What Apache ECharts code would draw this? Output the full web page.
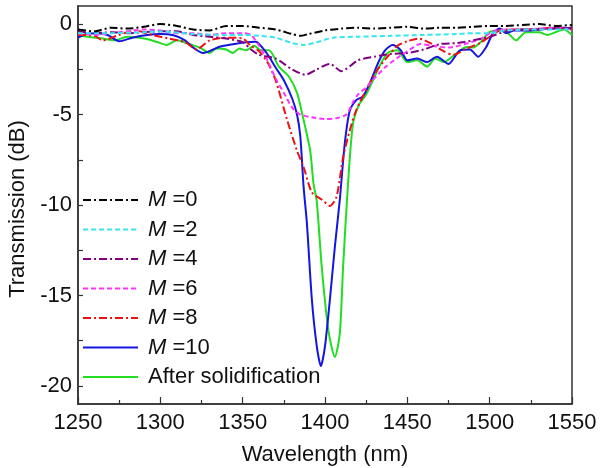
<!DOCTYPE html>
<html>
<head>
<meta charset="utf-8">
<script src="https://cdn.jsdelivr.net/npm/echarts@6/dist/echarts.min.js"></script>
<style>html,body{margin:0;padding:0;background:#fff}#c{width:600px;height:468px}</style>
</head>
<body>
<div id="c"></div>
<script>
// Series names
const seriesNames = ['M=0', 'M=2', 'M=4', 'M=6', 'M=8', 'M=10', 'After solidification'];

// M = 0
const wlM0 = [1250,1260,1270,1280,1290,1300,1310,1320,1330,1340,1350,1360,1370,1380,1385,1390,1400,1410,1420,1430,1440,1450,1460,1470,1480,1490,1500,1510,1520,1530,1540,1550];
const trM0 = [-0.3,-0.4,-0.2,-0.25,-0.15,0.0,-0.1,-0.3,-0.35,-0.1,-0.1,-0.2,-0.3,-0.55,-0.65,-0.55,-0.35,-0.25,-0.2,-0.25,-0.2,-0.15,-0.25,-0.2,-0.2,-0.15,-0.1,-0.1,-0.05,0.0,-0.1,-0.05];

// M = 2
const wlM2 = [1250,1270,1290,1300,1320,1340,1350,1360,1370,1380,1387,1395,1405,1420,1440,1460,1480,1490,1500,1510,1530,1550];
const trM2 = [-0.5,-0.5,-0.45,-0.4,-0.55,-0.6,-0.6,-0.65,-0.75,-1.05,-1.15,-1.0,-0.75,-0.7,-0.65,-0.6,-0.55,-0.5,-0.5,-0.35,-0.3,-0.3];

// M = 4
const wlM4 = [1250,1260,1270,1280,1290,1300,1310,1320,1330,1340,1350,1355,1360,1370,1380,1388,1395,1403,1410,1420,1430,1440,1450,1460,1470,1480,1490,1500,1510,1520,1530,1540,1550];
const trM4 = [-0.4,-0.5,-0.45,-0.5,-0.45,-0.4,-0.4,-0.6,-0.7,-0.8,-1.0,-1.4,-1.7,-1.9,-2.5,-2.8,-2.5,-2.2,-2.6,-2.0,-1.8,-1.65,-1.6,-1.4,-1.1,-1.05,-0.9,-0.7,-0.4,-0.3,-0.3,-0.25,-0.2];

// M = 6
const wlM6 = [1250,1260,1270,1280,1290,1300,1310,1320,1330,1340,1350,1355,1360,1365,1370,1375,1380,1385,1392,1400,1407,1413,1417,1420,1425,1430,1437,1445,1450,1458,1465,1475,1485,1495,1502,1510,1520,1530,1540,1550];
const trM6 = [-0.5,-0.6,-0.5,-0.4,-0.3,-0.35,-0.5,-0.5,-0.6,-0.5,-0.5,-0.6,-1.2,-2.0,-3.0,-3.8,-4.6,-5.0,-5.15,-5.25,-5.2,-5.0,-4.3,-3.9,-3.5,-3.0,-2.35,-1.8,-1.5,-1.1,-1.2,-1.3,-1.1,-0.8,-0.4,-0.3,-0.3,-0.25,-0.2,-0.3];

// M = 8
const wlM8 = [1250,1260,1265,1275,1285,1295,1305,1315,1322,1330,1340,1350,1355,1360,1365,1370,1377,1383,1387,1392,1398,1403,1407,1411,1415,1419,1427,1432,1438,1444,1450,1457,1465,1472,1478,1485,1494,1500,1508,1520,1530,1540,1550];
const trM8 = [-0.6,-0.65,-0.9,-0.6,-0.35,-0.6,-0.8,-1.0,-1.4,-0.9,-0.75,-0.8,-1.2,-1.5,-2.1,-3.1,-5.3,-7.0,-7.9,-9.3,-9.7,-10.05,-9.55,-7.35,-5.9,-4.75,-3.3,-2.5,-1.8,-1.2,-0.95,-0.8,-1.1,-1.5,-1.7,-1.4,-1.05,-0.7,-0.3,-0.3,-0.25,-0.2,-0.3];

// M = 10
const wlM10 = [1250,1255,1262,1268,1275,1283,1292,1300,1308,1315,1320,1326,1336,1345,1352,1358,1362,1366,1370,1375,1380,1383,1385,1387,1389,1392,1395,1397.5,1400,1403,1406,1409,1412,1415,1419,1423,1427,1433,1437,1441,1446,1450,1456,1462,1468,1475,1482,1488,1493,1498,1502,1506,1510,1515,1525,1535,1545,1550];
const trM10 = [-0.75,-0.55,-0.5,-0.6,-0.95,-0.75,-0.6,-0.55,-0.62,-0.9,-1.3,-1.6,-1.25,-1.1,-1.0,-0.97,-1.3,-1.8,-2.4,-3.1,-4.1,-5.0,-6.2,-9.0,-11.0,-15.2,-17.8,-18.9,-17.8,-15.2,-12.3,-9.7,-6.6,-4.8,-4.2,-4.0,-3.3,-2.0,-1.4,-1.16,-1.45,-2.0,-1.9,-2.1,-1.8,-2.2,-1.45,-1.4,-1.8,-1.25,-0.5,-0.25,-0.5,-0.35,-0.35,-0.25,-0.2,-0.25];

// After solidification
const wlAS = [1250,1256,1265,1272,1280,1287,1293,1300,1304,1310,1316,1324,1330,1334,1340,1344,1348,1352,1357,1361,1366,1372,1378,1383,1386.5,1391,1393,1395,1398,1402,1406,1409,1411,1414,1417,1421,1425,1433,1438,1444,1450,1456,1462,1467,1472,1480,1486,1490,1494,1500,1506,1511,1516,1522,1530,1535,1540,1545,1550];
const trAS = [-0.6,-0.7,-0.8,-0.9,-0.7,-0.75,-0.85,-1.05,-1.15,-0.9,-1.05,-1.3,-1.6,-1.35,-1.4,-1.6,-1.35,-1.45,-1.2,-1.45,-1.45,-2.35,-2.9,-3.8,-5.1,-7.0,-8.8,-9.8,-13.4,-16.9,-18.4,-17.1,-13.4,-8.8,-5.5,-4.4,-3.9,-2.35,-1.6,-1.45,-2.1,-2.0,-2.35,-1.9,-2.1,-1.6,-1.27,-1.3,-1.05,-0.43,-0.35,-0.5,-0.9,-0.45,-0.45,-0.6,-0.45,-0.3,-0.6];

// Axis ticks
const xTicks = [1250,1300,1350,1400,1450,1500,1550];
const yLabels = [0,-5,-10,-15,-20];
const yTicks = [0,-2.5,-5,-7.5,-10,-12.5,-15,-17.5,-20];

const wls = [wlM0, wlM2, wlM4, wlM6, wlM8, wlM10, wlAS];
const trs = [trM0, trM2, trM4, trM6, trM8, trM10, trAS];
const colors = ['#000000', '#33e6f0', '#800080', '#ff33ff', '#ee1111', '#1515e0', '#22dd22'];
const dashes = [[8,3,2,3], [5,3], [8,3,2,3], [5,3], [8,3,2,3], 'solid', 'solid'];

const FONT = 'Liberation Sans, Arial, sans-serif';
const FS = 22;

const series = seriesNames.map((n, i) => ({
  name: n,
  type: 'line',
  data: wls[i].map((w, j) => [w, trs[i][j]]),
  showSymbol: false,
  symbol: 'circle',
  smooth: 0.25,
  lineStyle: { color: colors[i], width: 2, type: dashes[i] },
  itemStyle: { color: colors[i] },
  z: 10 - i
}));

const chart = echarts.init(document.getElementById('c'), null, { renderer: 'canvas' });
chart.setOption({
  backgroundColor: '#fff',
  animation: false,
  grid: { left: 78, right: 28, top: 6, bottom: 64, containLabel: false, outerBoundsMode: 'none', show: true, borderColor: '#333', borderWidth: 1.5, backgroundColor: 'transparent' },
  legend: {
    orient: 'vertical',
    left: 77,
    top: 184,
    itemWidth: 55,
    itemHeight: 14,
    itemGap: 7.5,
    data: seriesNames,
    itemStyle: { opacity: 0 },
    formatter: function (name) {
      if (name.indexOf('M=') === 0) return '{i|M}{n| =' + name.slice(2) + '}';
      return '{n|' + name + '}';
    },
    textStyle: {
      fontFamily: FONT, fontSize: FS, color: '#111', lineHeight: 22, padding: [0, 0, 0, 5],
      rich: {
        i: { fontFamily: FONT, fontSize: FS, fontStyle: 'italic', color: '#111', lineHeight: 22 },
        n: { fontFamily: FONT, fontSize: FS, color: '#111', lineHeight: 22 }
      }
    }
  },
  xAxis: {
    type: 'value', min: 1250, max: 1550, interval: 50,
    name: 'Wavelength (nm)', nameLocation: 'middle', nameGap: 40,
    nameTextStyle: { fontFamily: FONT, fontSize: FS, color: '#111' },
    axisLine: { show: true, onZero: false, lineStyle: { color: '#333', width: 1.5 } },
    axisTick: { show: true, inside: true, length: 7, lineStyle: { color: '#333', width: 1.2 } },
    minorTick: { show: true, splitNumber: 2, length: 4, lineStyle: { color: '#333', width: 1.2 } },
    axisLabel: { fontFamily: FONT, fontSize: FS, color: '#111', margin: 8, customValues: xTicks, formatter: v => String(v) },
    splitLine: { show: false }
  },
  yAxis: {
    type: 'value', min: -21, max: 1,
    name: 'Transmission (dB)', nameLocation: 'middle', nameGap: 49,
    nameTextStyle: { fontFamily: FONT, fontSize: FS, color: '#111', padding: [0, 8, 0, 0] },
    axisLine: { show: true, onZero: false, lineStyle: { color: '#333', width: 1.5 } },
    axisTick: { show: true, inside: true, length: 5, lineStyle: { color: '#333', width: 1.2 }, customValues: yTicks },
    axisLabel: { fontFamily: FONT, fontSize: FS, color: '#111', margin: 6, customValues: yLabels, formatter: v => String(v) },
    splitLine: { show: false }
  },
  series: series
});
</script>
</body>
</html>
